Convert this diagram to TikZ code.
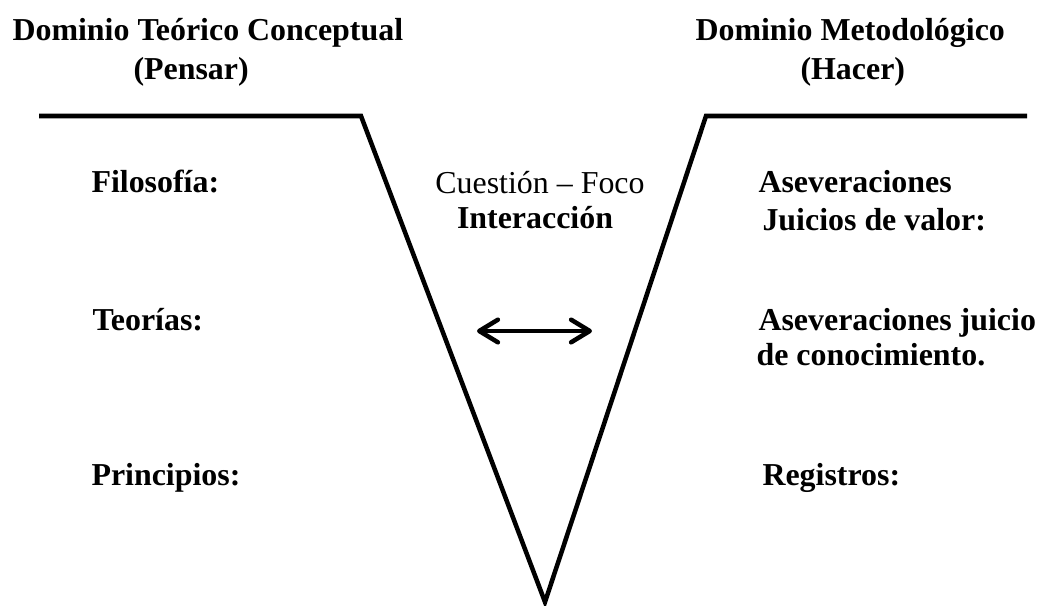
\documentclass[tikz,border=0pt]{standalone}
\usepackage{fontspec}
\setmainfont{Liberation Serif}
\usetikzlibrary{arrows.meta}

\begin{document}
\begin{tikzpicture}[x = 0.376pt, y = -0.376pt,
        rotulo/.style = {anchor = base west, inner sep = 0pt, font = \fontsize{12}{14.4}\selectfont\bfseries},
        centro/.style = {anchor = base, inner sep = 0pt, font = \fontsize{12}{14.4}\selectfont},
        trazo/.style = {line width = 1.7pt}]
        \useasboundingbox (0,0) rectangle (1040,606);

        % la V
        \coordinate (izq) at (39,116);
        \coordinate (izqV) at (361,116);
        \coordinate (fondo) at (545,602);
        \coordinate (derV) at (706,116);
        \coordinate (der) at (1027,116);
        \draw [trazo] (izq) -- (izqV) -- (fondo) -- (derV) -- (der);

        % encabezados
        \node [rotulo] (pensar1) at (12,40) {Dominio Teórico Conceptual};
        \node [rotulo] (pensar2) at (133,79) {(Pensar)};
        \node [rotulo] (hacer1) at (695,40) {Dominio Metodológico};
        \node [rotulo] (hacer2) at (800,79) {(Hacer)};

        % lado izquierdo
        \node [rotulo] (filo) at (91,192) {Filosofía:};
        \node [rotulo] (teo) at (92,330) {Teorías:};
        \node [rotulo] (prin) at (91,485) {Principios:};

        % centro
        \node [centro] (foco) at (540,193) {Cuestión – Foco};
        \node [centro, font = \fontsize{12}{14.4}\selectfont\bfseries] (inter) at (535,228) {Interacción};
        \coordinate (flechaI) at (477,331);
        \coordinate (flechaD) at (592,331);
        \draw [trazo, {Straight Barb[length = 7pt, width = 8.5pt, round]}-{Straight Barb[length = 7pt, width = 8.5pt, round]}] (flechaI) -- (flechaD);

        % lado derecho
        \node [rotulo] (ase1) at (758,192) {Aseveraciones};
        \node [rotulo] (juic) at (762,230) {Juicios de valor:};
        \node [rotulo] (ase2) at (758,330) {Aseveraciones juicio};
        \node [rotulo] (cono) at (756,365) {de conocimiento.};
        \node [rotulo] (reg) at (762,485) {Registros:};
    \end{tikzpicture}
\end{document}
